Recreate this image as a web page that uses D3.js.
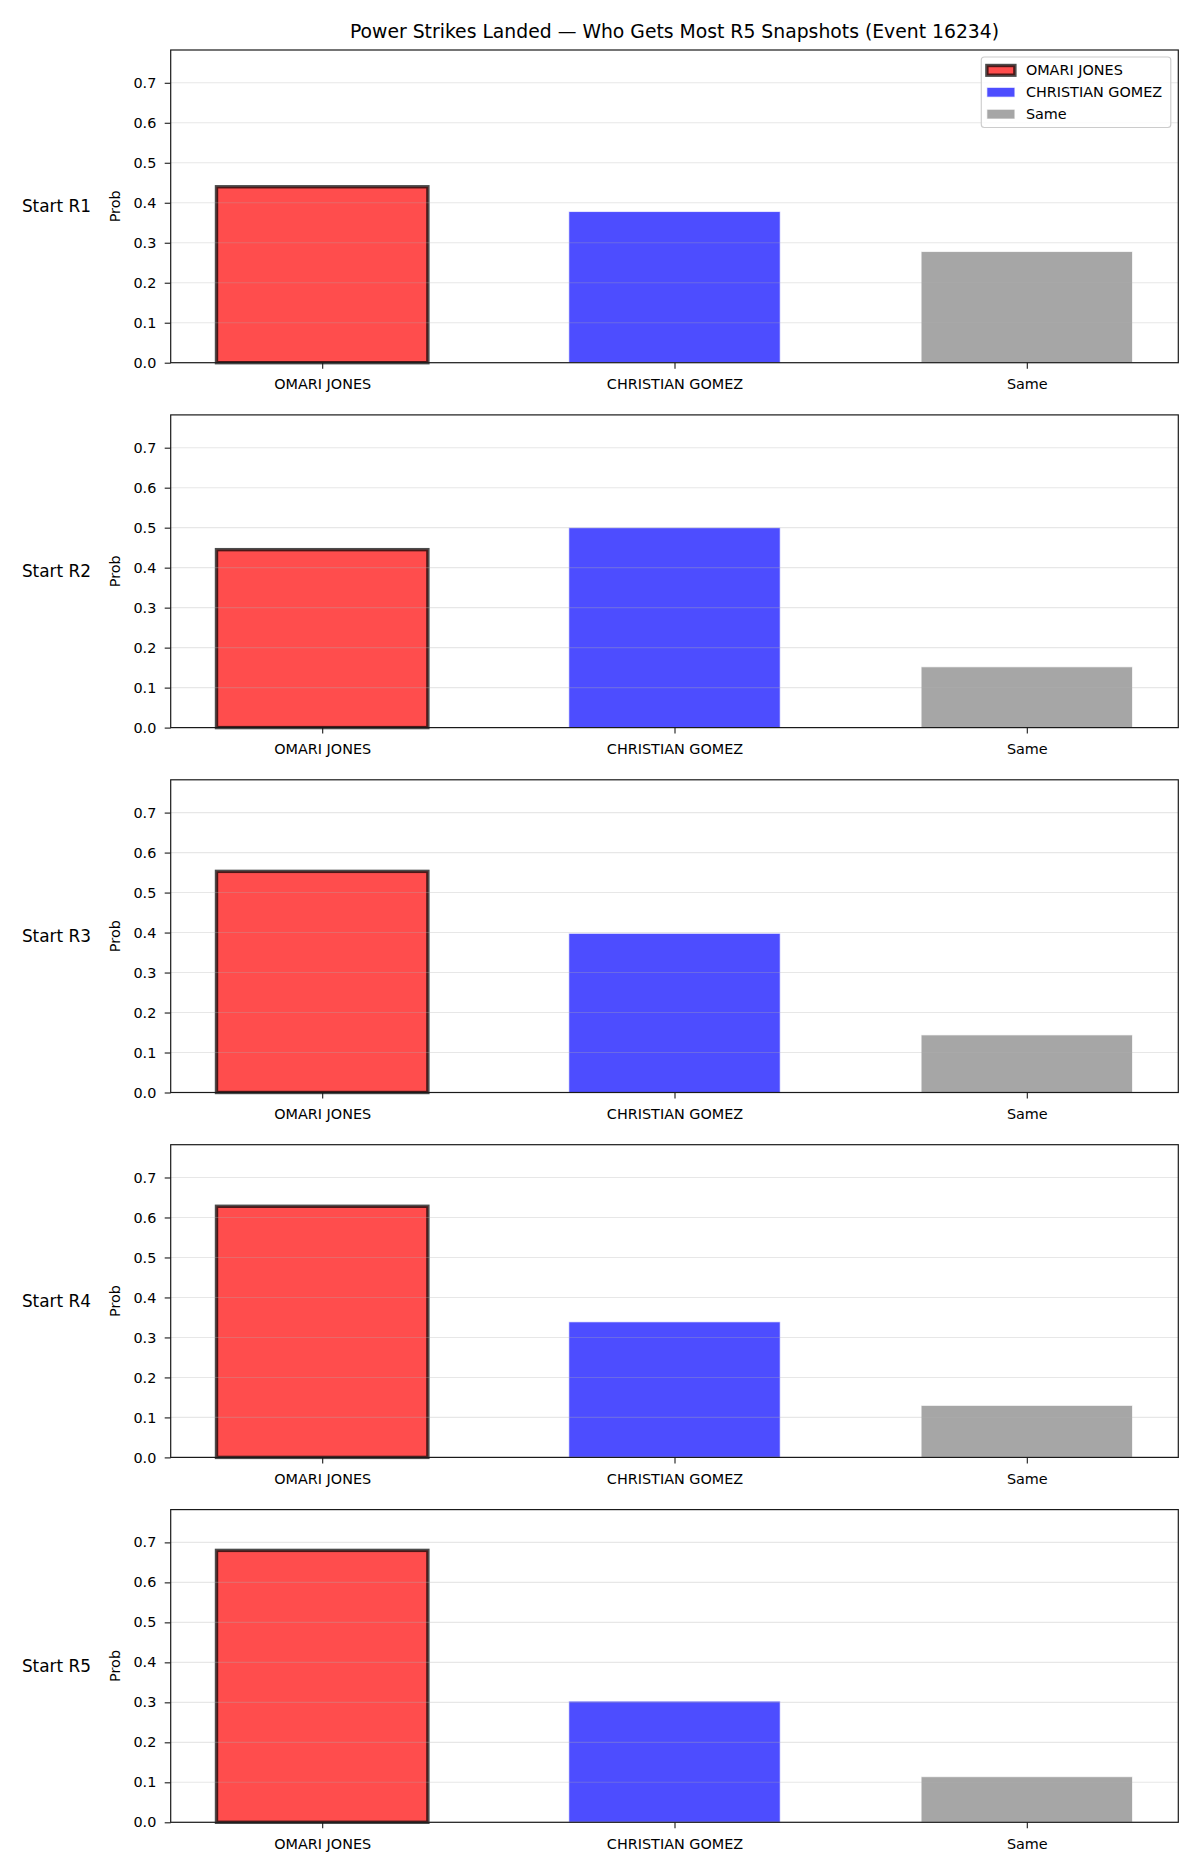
<!DOCTYPE html>
<html>
<head>
<meta charset="utf-8">
<script src="https://cdn.jsdelivr.net/npm/d3@7/dist/d3.min.js"></script>
<style>
  html, body { margin: 0; padding: 0; background: #fff; }
  svg { display: block; font-family: "DejaVu Sans", sans-serif; }
</style>
</head>
<body>
<svg id="chart" width="1200" height="1875"></svg>
<script>
// ---- Data ----
const chartTitle = "Power Strikes Landed \u2014 Who Gets Most R5 Snapshots (Event 16234)";
const categories = ["OMARI JONES", "CHRISTIAN GOMEZ", "Same"];
const rounds = ["Start R1", "Start R2", "Start R3", "Start R4", "Start R5"];
const omariValues = [0.440, 0.445, 0.553, 0.628, 0.680];
const christianValues = [0.378, 0.500, 0.398, 0.339, 0.303];
const sameValues = [0.278, 0.152, 0.144, 0.130, 0.114];
const yTicks = [0.0, 0.1, 0.2, 0.3, 0.4, 0.5, 0.6, 0.7];
const yLabel = "Prob";
const barColors = ["#ff4d4d", "#4d4dff", "#a6a6a6"];

// ---- Layout ----
const svg = d3.select("#chart");
const W = 1200, H = 1875;
svg.append("rect").attr("width", W).attr("height", H).attr("fill", "#fff");

const left = 170.7, right = 1178.3;
const panelTop0 = 50, panelStep = 364.9, panelH = 312.7;
const yMax = d3.max(omariValues.concat(christianValues, sameValues)) * 1.15;
const barW = 0.6;

const x = d3.scaleLinear()
  .domain([-barW / 2 - 0.05 * (2 + barW), 2 + barW / 2 + 0.05 * (2 + barW)])
  .range([left, right]);

const tickFont = 14.4;
const spineColor = "#1a1a1a";

svg.append("text")
  .attr("x", (left + right) / 2)
  .attr("y", 37.5)
  .attr("text-anchor", "middle")
  .attr("font-size", 18.8)
  .attr("fill", "#000")
  .text(chartTitle);

rounds.forEach((rName, r) => {
  const top = panelTop0 + r * panelStep;
  const bottom = top + panelH;
  const y = d3.scaleLinear().domain([0, yMax]).range([bottom, top]);
  const g = svg.append("g");
  const vals = [omariValues[r], christianValues[r], sameValues[r]];

  // bars
  vals.forEach((v, i) => {
    const bx = x(i - barW / 2), bw = x(i + barW / 2) - x(i - barW / 2);
    const rect = g.append("rect")
      .attr("x", bx).attr("y", y(v))
      .attr("width", bw).attr("height", y(0) - y(v))
      .attr("fill", barColors[i]);
    if (i === 0) {
      g.append("rect")
        .attr("x", bx).attr("y", y(v))
        .attr("width", bw).attr("height", y(0) - y(v))
        .attr("fill", "none")
        .attr("stroke", "#000").attr("stroke-opacity", 0.7)
        .attr("stroke-width", 3.4);
    } else {
      rect.attr("stroke", "#fff").attr("stroke-opacity", 0.7).attr("stroke-width", 1);
    }
  });

  // grid (above bars, like matplotlib)
  g.selectAll("line.grid").data(yTicks).enter().append("line")
    .attr("x1", left).attr("x2", right)
    .attr("y1", d => y(d)).attr("y2", d => y(d))
    .attr("stroke", "#b0b0b0").attr("stroke-opacity", 0.3)
    .attr("stroke-width", 1.1);

  // y axis ticks & labels
  const yAxis = d3.axisLeft(y).tickValues(yTicks).tickFormat(d3.format(".1f"))
    .tickSize(6).tickPadding(8.4);
  const ya = g.append("g").attr("transform", `translate(${left},0)`).call(yAxis);
  ya.select(".domain").remove();
  ya.selectAll(".tick line").attr("stroke", spineColor).attr("stroke-width", 1.1);
  ya.selectAll(".tick text").attr("font-size", tickFont).attr("fill", "#000")
    .attr("font-family", "DejaVu Sans");

  // x axis ticks & labels
  const xAxis = d3.axisBottom(x).tickValues([0, 1, 2]).tickFormat(i => categories[i])
    .tickSize(6).tickPadding(10.2);
  const xa = g.append("g").attr("transform", `translate(0,${bottom})`).call(xAxis);
  xa.select(".domain").remove();
  xa.selectAll(".tick line").attr("stroke", spineColor).attr("stroke-width", 1.1);
  xa.selectAll(".tick text").attr("font-size", tickFont).attr("fill", "#000")
    .attr("font-family", "DejaVu Sans");

  // spines
  g.append("rect")
    .attr("x", left).attr("y", top)
    .attr("width", right - left).attr("height", bottom - top)
    .attr("fill", "none").attr("stroke", spineColor).attr("stroke-width", 1.2);

  // y label
  g.append("text")
    .attr("transform", `translate(120,${(top + bottom) / 2}) rotate(-90)`)
    .attr("text-anchor", "middle")
    .attr("font-size", tickFont)
    .attr("fill", "#000")
    .text(yLabel);

  // row label
  g.append("text")
    .attr("x", 91).attr("y", (top + bottom) / 2)
    .attr("text-anchor", "end")
    .attr("dominant-baseline", "central")
    .attr("font-size", 16.9)
    .attr("fill", "#000")
    .text(rName);

  // legend on first panel
  if (r === 0) {
    const lg = svg.append("g");
    const pad = 5.6, handleW = 28, handleH = 9.7, textPad = 11, rowStep = 21.9, rowH = 15.5;
    const legRight = right - 7.5, legTop = top + 7;
    const tmp = lg.selectAll("text.tmp").data(categories).enter().append("text")
      .attr("font-size", tickFont).text(d => d);
    let maxW = 0;
    tmp.each(function () { maxW = Math.max(maxW, this.getComputedTextLength()); });
    tmp.remove();
    const legW = pad + handleW + textPad + maxW + pad + 3;
    const legH = 2 * pad + rowH + 2 * rowStep;
    const legLeft = legRight - legW;
    lg.append("rect")
      .attr("x", legLeft).attr("y", legTop)
      .attr("width", legW).attr("height", legH)
      .attr("rx", 3).attr("ry", 3)
      .attr("fill", "#fff").attr("fill-opacity", 0.8)
      .attr("stroke", "#cccccc").attr("stroke-width", 1.1);
    categories.forEach((c, i) => {
      const cy = legTop + pad + rowH / 2 + i * rowStep;
      const hx = legLeft + pad;
      lg.append("rect")
        .attr("x", hx).attr("y", cy - handleH / 2)
        .attr("width", handleW).attr("height", handleH)
        .attr("fill", barColors[i]);
      if (i === 0) {
        lg.append("rect")
          .attr("x", hx).attr("y", cy - handleH / 2)
          .attr("width", handleW).attr("height", handleH)
          .attr("fill", "none")
          .attr("stroke", "#000").attr("stroke-opacity", 0.7).attr("stroke-width", 3.4);
      } else {
        lg.append("rect")
          .attr("x", hx).attr("y", cy - handleH / 2)
          .attr("width", handleW).attr("height", handleH)
          .attr("fill", "none")
          .attr("stroke", "#fff").attr("stroke-opacity", 0.7).attr("stroke-width", 1);
      }
      lg.append("text")
        .attr("x", hx + handleW + textPad).attr("y", cy)
        .attr("dominant-baseline", "central")
        .attr("font-size", tickFont).attr("fill", "#000")
        .text(c);
    });
  }
});
</script>
</body>
</html>
